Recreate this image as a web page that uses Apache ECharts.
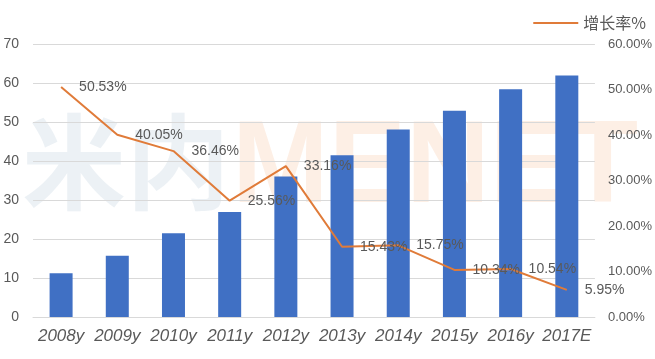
<!DOCTYPE html>
<html>
<head>
<meta charset="utf-8">
<script src="https://cdn.jsdelivr.net/npm/echarts@6/dist/echarts.min.js"></script>
<style>html,body{margin:0;padding:0;background:#fff;}#c{width:655px;height:359px;}</style>
</head>
<body>
<div id="c"></div>
<script>
var categories = ['2008y','2009y','2010y','2011y','2012y','2013y','2014y','2015y','2016y','2017E'];
var marketValues = [11.2, 15.7, 21.5, 26.9, 36.0, 41.5, 48.1, 52.9, 58.4, 61.9];
var growthRates = [50.53, 40.05, 36.46, 25.56, 33.16, 15.43, 15.75, 10.34, 10.54, 5.95];
var leftTicks = [0, 70, 10];
var rightTicks = [0, 60, 10];

var chart = echarts.init(document.getElementById('c'), null, {renderer: 'canvas'});
var font = 'Liberation Sans, Arial, sans-serif';
chart.setOption({
  animation: false,
  backgroundColor: '#fff',
  graphic: [
    {type: 'text', left: 22, top: 110, z: -10, style: {text: '米内', fontSize: 104, fontWeight: 'bold', fontFamily: 'Noto Sans CJK SC', fill: 'rgba(205,218,228,0.38)'}},
    {type: 'text', left: 232, top: 112, z: -10, style: {text: 'MENET', fontSize: 116, fontWeight: 'bold', fontFamily: font, fill: 'rgba(250,214,190,0.4)'}}
  ],
  legend: {
    data: [{name: '增长率%', icon: 'rect'}],
    right: 4, top: 10,
    itemWidth: 45, itemHeight: 2,
    textStyle: {fontSize: 16, color: '#595959', fontFamily: 'Noto Sans CJK SC'}
  },
  grid: {left: 33, right: 60, top: 44, bottom: 42, containLabel: false},
  xAxis: {
    type: 'category', data: categories,
    axisLine: {lineStyle: {color: '#d9d9d9'}},
    axisTick: {show: false},
    axisLabel: {fontSize: 17, fontStyle: 'italic', color: '#595959', margin: 11, fontFamily: font, interval: 0}
  },
  yAxis: [
    {type: 'value', min: leftTicks[0], max: leftTicks[1], interval: leftTicks[2],
     axisLine: {show: false}, axisTick: {show: false},
     splitLine: {lineStyle: {color: '#d9d9d9', width: 1}},
     axisLabel: {fontSize: 14, color: '#595959', margin: 14, fontFamily: font}},
    {type: 'value', min: rightTicks[0], max: rightTicks[1], interval: rightTicks[2],
     axisLine: {show: false}, axisTick: {show: false}, splitLine: {show: false},
     axisLabel: {fontSize: 13, color: '#595959', margin: 13, fontFamily: font,
       formatter: function (v) { return v.toFixed(2) + '%'; }}}
  ],
  series: [
    {name: '规模', type: 'bar', data: marketValues, barWidth: 23,
     itemStyle: {color: '#4070C4'}},
    {name: '增长率%', type: 'line', yAxisIndex: 1, data: growthRates,
     symbol: 'circle', symbolSize: 0, showSymbol: true,
     lineStyle: {color: '#E07B39', width: 2}, itemStyle: {color: '#E07B39'},
     label: {show: true, position: 'right', distance: 18, fontSize: 14, color: '#595959', fontFamily: font,
       formatter: function (p) { return p.value.toFixed(2) + '%'; }}}
  ]
});
</script>
</body>
</html>
